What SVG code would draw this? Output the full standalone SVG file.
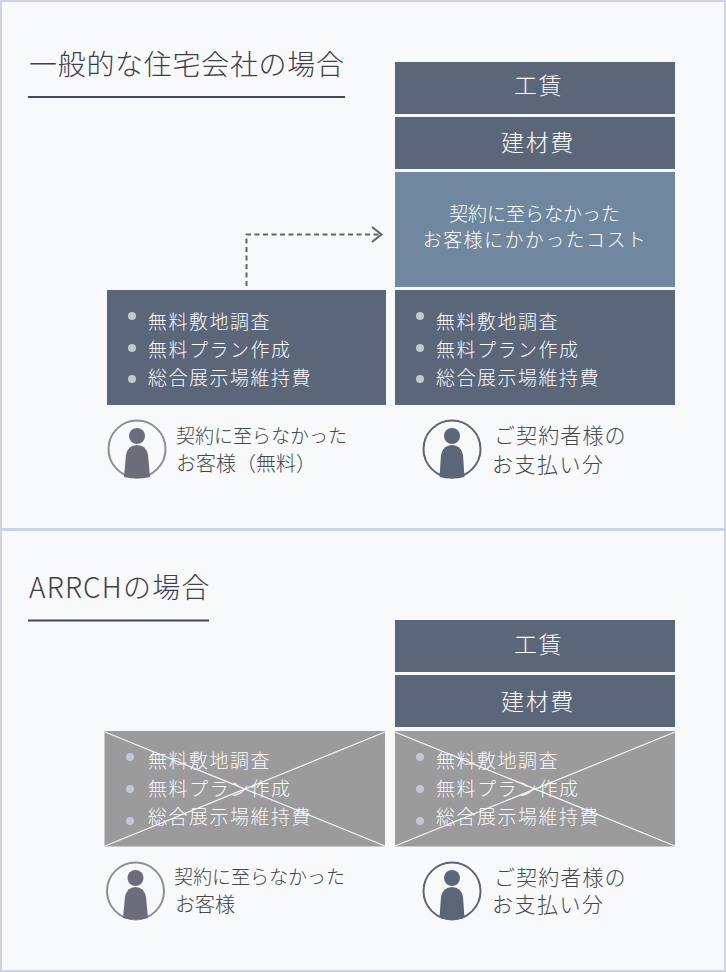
<svg xmlns="http://www.w3.org/2000/svg" width="726" height="972" viewBox="0 0 726 972">
<style>
text{font-family:"Noto Sans CJK JP","Noto Sans",sans-serif;font-weight:300}
.title{font-size:28px;letter-spacing:0.7px;fill:#3c4048}
.list{font-size:19px;letter-spacing:1.5px;fill:#f8f9fb}
.lab{font-size:19px;fill:#43474f}
.lab3{font-size:20px;fill:#43474f}
.lab2{font-size:21px;letter-spacing:1.1px;fill:#43474f}
.lab4{font-size:21px;letter-spacing:1.5px;fill:#43474f}
.head{font-size:23px;letter-spacing:1.6px;fill:#fbfcfd;text-anchor:middle}
.mid{font-size:19px;fill:#fbfcfd;text-anchor:middle}
.dark{fill:#5b6679}
.gray{fill:#9b9b9b}
.x{stroke:#f4f6f9;stroke-width:1.2;fill:none}
.dot{fill:#c3c7d4}
.rule{stroke:#43474f;stroke-width:2}
</style>
<g id="background">
<rect x="0" y="0" width="726" height="972" fill="#f8f9fb"/>
<rect x="1" y="1" width="724" height="528" fill="none" stroke="#cdd4e0" stroke-width="2"/>
<rect x="1" y="530" width="724" height="441" fill="none" stroke="#cdd4e0" stroke-width="2"/>
</g>
<g id="title-1"><text class="title" x="29" y="75">一般的な住宅会社の場合</text><line class="rule" x1="28" y1="97" x2="345" y2="97"/></g>
<g id="title-2"><text class="title" x="29" y="598" style="letter-spacing:1.2px">ARRCHの場合</text><line class="rule" x1="28" y1="620.500" x2="209" y2="620.500"/></g>
<g id="connectors">
<path d="M246.500 286V234.500H380" fill="none" stroke="#5f6670" stroke-width="2" stroke-dasharray="5 3.500"/>
<path d="M372 227L381.500 234.500L372 242" fill="none" stroke="#5f6670" stroke-width="2"/>
</g>
<g id="top-wage"><rect class="dark" x="395" y="62" width="280" height="52"/><text class="head" x="538.500" y="94">工賃</text></g>
<g id="top-material"><rect class="dark" x="395" y="117" width="280" height="52"/><text class="head" x="538" y="151">建材費</text></g>
<g id="top-cost"><rect x="395" y="172" width="280" height="115" fill="#70889f"/><text class="mid" x="534.500" y="221">契約に至らなかった</text><text class="mid" x="535" y="247" style="letter-spacing:1.4px">お客様にかかったコスト</text></g>
<g id="top-left-list"><rect class="dark" x="107" y="290" width="279" height="115"/>
<circle class="dot" cx="132" cy="316" r="4"/><circle class="dot" cx="132" cy="348" r="4"/><circle class="dot" cx="132" cy="379" r="4"/>
<text class="list" x="148" y="329">無料敷地調査</text><text class="list" x="148" y="357">無料プラン作成</text><text class="list" x="148" y="385">総合展示場維持費</text></g>
<g id="top-right-list"><rect class="dark" x="395" y="290" width="280" height="115"/>
<circle class="dot" cx="420" cy="316" r="4"/><circle class="dot" cx="420" cy="348" r="4"/><circle class="dot" cx="420" cy="379" r="4"/>
<text class="list" x="436" y="329">無料敷地調査</text><text class="list" x="436" y="357">無料プラン作成</text><text class="list" x="436" y="385">総合展示場維持費</text></g>
<g id="top-left-person">
<circle cx="137" cy="449" r="28.500" fill="none" stroke="#8f8f8f" stroke-width="2"/><circle cx="137" cy="436" r="8" fill="#6b6e7a"/><path d="M124 477L126 455Q128 445 137 445Q146 445 148 455L150 477Q137 480 124 477Z" fill="#6b6e7a"/>
<text class="lab" x="176" y="443">契約に至らなかった</text><text class="lab3" x="176" y="471">お客様（無料）</text></g>
<g id="top-right-person">
<circle cx="452" cy="449" r="28.500" fill="none" stroke="#5f6670" stroke-width="2"/><circle cx="452" cy="436" r="8" fill="#5b6679"/><path d="M439.500 477L441 455Q443 445 452 445Q461 445 463 455L464.500 477Q452 480 439.500 477Z" fill="#5b6679"/>
<text class="lab2" x="494" y="443">ご契約者様の</text><text class="lab4" x="492" y="472">お支払い分</text></g>
<g id="bottom-wage"><rect class="dark" x="395" y="620" width="280" height="52"/><text class="head" x="538.500" y="653">工賃</text></g>
<g id="bottom-material"><rect class="dark" x="395" y="675" width="280" height="52"/><text class="head" x="538" y="710">建材費</text></g>
<g id="bottom-left-list"><rect class="gray" x="104.500" y="731" width="280.500" height="115.500"/>
<circle class="dot" cx="130" cy="757" r="4"/><circle class="dot" cx="130" cy="789" r="4"/><circle class="dot" cx="130" cy="821" r="4"/>
<text class="list" x="148" y="768">無料敷地調査</text><text class="list" x="148" y="796">無料プラン作成</text><text class="list" x="148" y="824">総合展示場維持費</text>
<path class="x" d="M105 732L385 846M385 732L105 846"/></g>
<g id="bottom-right-list"><rect class="gray" x="395" y="731" width="280" height="115.500"/>
<circle class="dot" cx="420" cy="757" r="4"/><circle class="dot" cx="420" cy="789" r="4"/><circle class="dot" cx="420" cy="821" r="4"/>
<text class="list" x="436" y="768">無料敷地調査</text><text class="list" x="436" y="796">無料プラン作成</text><text class="list" x="436" y="824">総合展示場維持費</text>
<path class="x" d="M395 732L675 846M675 732L395 846"/></g>
<g id="bottom-left-person">
<circle cx="135.500" cy="891" r="28.500" fill="none" stroke="#8f8f8f" stroke-width="2"/><circle cx="135.500" cy="878" r="8" fill="#6b6e7a"/><path d="M123 918L125 897Q127 887 135.500 887Q144 887 146 897L148 918Q135.500 921 123 918Z" fill="#6b6e7a"/>
<text class="lab" x="174" y="884">契約に至らなかった</text><text class="lab3" x="175" y="912">お客様</text></g>
<g id="bottom-right-person">
<circle cx="452" cy="891" r="28.500" fill="none" stroke="#5f6670" stroke-width="2"/><circle cx="452" cy="878" r="8" fill="#5b6679"/><path d="M439.500 918L441 897Q443 887 452 887Q461 887 463 897L464.500 918Q452 921 439.500 918Z" fill="#5b6679"/>
<text class="lab2" x="494" y="885">ご契約者様の</text><text class="lab4" x="492" y="912">お支払い分</text></g>
</svg>
